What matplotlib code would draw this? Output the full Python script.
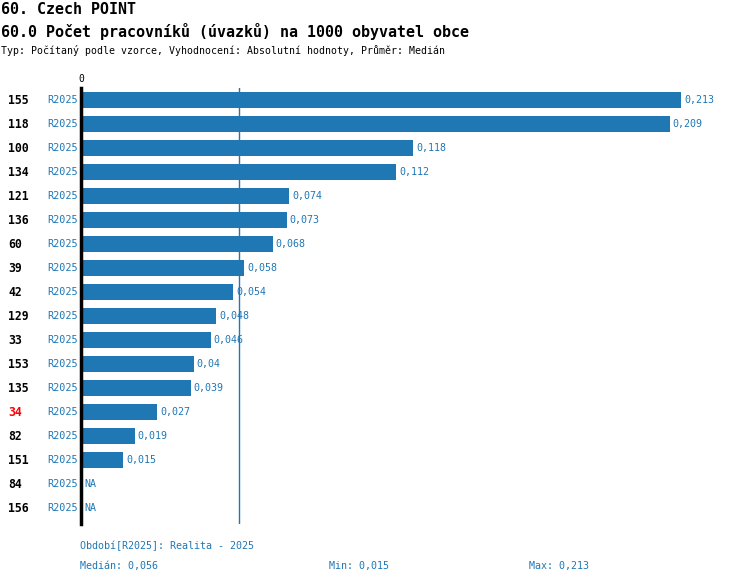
import numpy as np
import matplotlib
matplotlib.use("Agg")
import matplotlib.pyplot as plt

# ── Data ──────────────────────────────────────────────────────────────────────
ids = ["155", "118", "100", "134", "121", "136", "60", "39", "42",
       "129", "33", "153", "135", "34", "82", "151", "84", "156"]
values = [0.213, 0.209, 0.118, 0.112, 0.074, 0.073, 0.068, 0.058, 0.054,
          0.048, 0.046, 0.04, 0.039, 0.027, 0.019, 0.015, np.nan, np.nan]
period = "R2025"
highlight = "34"
median = 0.056
vmin = 0.015
vmax = 0.213

BLUE = "#1f77b4"
MONO = "DejaVu Sans Mono"


def fmt(v):
    return f"{v:g}".replace(".", ",")


W, H = 750, 584
fig = plt.figure(figsize=(W / 100, H / 100), dpi=100)

# axes placed in pixel terms: zero at x=81, max value at x=681
ax = fig.add_axes([81 / W, 1 - 524 / H, 600 / W, 436 / H])
ax.set_xlim(0, vmax)
n = len(ids)
ax.set_ylim(n - 0.5 + 4 / 24, -0.5)

y = np.arange(n)
vals = np.array(values)
ax.barh(y, np.nan_to_num(vals), height=16 / 24, color=BLUE, zorder=2)

for sp in ["top", "right", "bottom"]:
    ax.spines[sp].set_visible(False)
ax.spines["left"].set_linewidth(2.5)
ax.spines["left"].set_color("black")
ax.set_yticks([])
ax.set_xticks([0])
ax.set_xticklabels(["0"], family=MONO, fontsize=7)
ax.xaxis.set_ticks_position("top")
ax.tick_params(axis="x", length=0, width=1, pad=3)

ax.axvline(median, color=BLUE, lw=1, zorder=1)

px = vmax / 600  # data units per pixel
for yi, name, v in zip(y, ids, vals):
    col = "red" if name == highlight else "black"
    ax.text(-73 * px, yi, name, ha="left", va="center", fontsize=8.3,
            fontweight="bold", family=MONO, color=col, clip_on=False)
    ax.text(-3 * px, yi, period, ha="right", va="center", fontsize=7.3,
            family=MONO, color=BLUE, clip_on=False)
    label = "NA" if np.isnan(v) else fmt(v)
    xv = 0 if np.isnan(v) else v
    ax.text(xv + 3 * px, yi, label, ha="left", va="center", fontsize=7.2,
            family=MONO, color=BLUE, clip_on=False)

# ── Header ────────────────────────────────────────────────────────────────────
fig.text(1 / W, 1 - 9 / H, "60. Czech POINT", ha="left", va="center",
         fontsize=10.8, fontweight="bold", family=MONO)
fig.text(1 / W, 1 - 31 / H, "60.0 Počet pracovníků (úvazků) na 1000 obyvatel obce",
         ha="left", va="center", fontsize=10.8, fontweight="bold", family=MONO)
fig.text(1 / W, 1 - 51 / H,
         "Typ: Počítaný podle vzorce, Vyhodnocení: Absolutní hodnoty, Průměr: Medián",
         ha="left", va="center", fontsize=7.1, family=MONO)

# ── Footer ────────────────────────────────────────────────────────────────────
fig.text(80 / W, 1 - 546 / H, f"Období[{period}]: Realita - 2025", ha="left",
         va="center", fontsize=7.2, family=MONO, color=BLUE)
fig.text(80 / W, 1 - 566 / H, f"Medián: {fmt(median)}", ha="left",
         va="center", fontsize=7.2, family=MONO, color=BLUE)
fig.text(329 / W, 1 - 566 / H, f"Min: {fmt(vmin)}", ha="left",
         va="center", fontsize=7.2, family=MONO, color=BLUE)
fig.text(529 / W, 1 - 566 / H, f"Max: {fmt(vmax)}", ha="left",
         va="center", fontsize=7.2, family=MONO, color=BLUE)

fig.savefig("out.png", dpi=100, facecolor="white")
